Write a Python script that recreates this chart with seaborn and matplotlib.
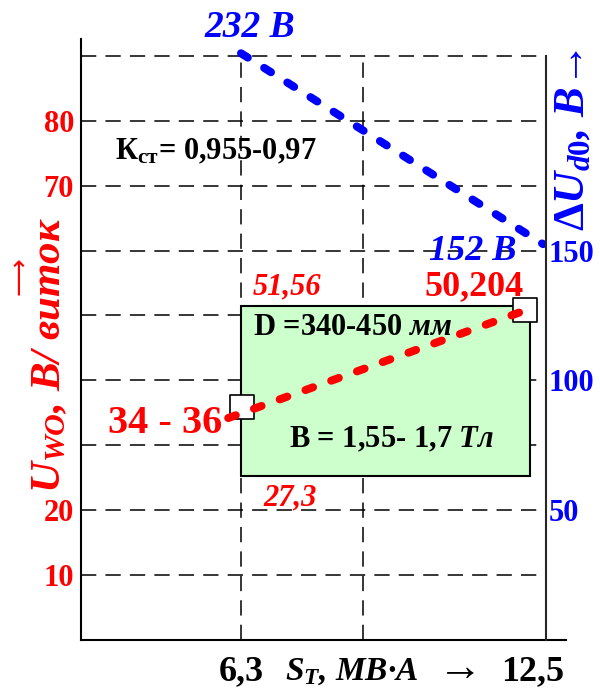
import numpy as np
import pandas as pd
import seaborn as sns
import matplotlib
matplotlib.use('Agg')
import matplotlib.pyplot as plt
from matplotlib.patches import Rectangle
from matplotlib.transforms import ScaledTranslation

# data
blue_x = [6.3, 12.44]          # S_T, MVA
blue_y = [226.0, 152.5]        # dU_d0, V (right axis)
red_x = [6.04, 12.01]
red_y = [34.2, 50.6]           # U_wo, V/turn (left axis)
box_x = [6.32, 12.07]
box_y = [35.9, 50.8]
zone_x = [6.3, 12.18]
zone_y = [25.2, 51.5]
grid_y = [10, 20, 30, 40, 50, 60, 70, 80, 90]
grid_x = [6.3, 8.78]
left_ticks = [10, 20, 70, 80]
right_ticks = [50, 100, 150]
x_ticks = [6.3, 12.5]
x_ticklabels = ['6,3', '12,5']

RED = '#ff0000'
BLUE = '#0000ff'
SERIF = ['Liberation Serif', 'DejaVu Serif']

sns.set_style('white')
plt.rcParams['font.family'] = SERIF
plt.rcParams['font.weight'] = 'bold'
plt.rcParams['mathtext.fontset'] = 'custom'
plt.rcParams['mathtext.rm'] = 'Liberation Serif:bold'
plt.rcParams['mathtext.it'] = 'Liberation Serif:italic:bold'
plt.rcParams['mathtext.bf'] = 'Liberation Serif:bold'

fig = plt.figure(figsize=(6, 6.89), dpi=100)
ax = fig.add_axes([81 / 600, 49 / 689, 485 / 600, 601 / 689])
ax.set_xlim(3.047, 12.907)
ax.set_ylim(0, 92.6)

# dashed grid, only inside the frame
dash = (0, (10, 6))
ax.hlines(grid_y, 3.047, 12.5, colors='black', lw=1.1, linestyles=dash, zorder=0.5)
ax.vlines(grid_x, 0, 90, colors='black', lw=1.1, linestyles=dash, zorder=0.5)

# green zone
ax.add_patch(Rectangle((zone_x[0], zone_y[0]), zone_x[1] - zone_x[0], zone_y[1] - zone_y[0],
                       facecolor='#ccffcc', edgecolor='black', lw=1.5, zorder=1))

sns.scatterplot(x=box_x, y=box_y, ax=ax, marker='s', s=300, color='white',
                edgecolor='black', linewidth=1.2, zorder=2)
sns.lineplot(x=red_x, y=red_y, ax=ax, color=RED, lw=5.8, linestyle=(0, (1.0, 2.4)),
             dash_capstyle='round', zorder=3)

for s in ['top', 'right']:
    ax.spines[s].set_visible(False)
for s in ['left', 'bottom']:
    ax.spines[s].set_linewidth(1.5)
    ax.spines[s].set_color('black')

ax.set_yticks(left_ticks)
ax.set_yticklabels([str(v) for v in left_ticks])
ax.tick_params(axis='y', length=0, pad=5, labelsize=22, labelcolor=RED)
ax.set_xticks(x_ticks)
ax.set_xticklabels(x_ticklabels)
ax.tick_params(axis='x', length=0, pad=11, labelsize=26, labelcolor='black')
lbl = ax.get_xticklabels()[1]
lbl.set_transform(lbl.get_transform() + ScaledTranslation(-13 / 100, 0, fig.dpi_scale_trans))

# right axis for dU_d0
ax2 = ax.twinx()
ax2.set_ylim(0, 92.6 * 2.5)
sns.lineplot(x=blue_x, y=blue_y, ax=ax2, color=BLUE, lw=5.8, linestyle=(0, (1.0, 2.4)),
             dash_capstyle='round')
for s in ['top', 'left', 'bottom']:
    ax2.spines[s].set_visible(False)
ax2.spines['right'].set_position(('data', 12.5))
ax2.spines['right'].set_bounds(0, 225)
ax2.spines['right'].set_linewidth(1.5)
ax2.set_yticks(right_ticks)
ax2.set_yticklabels([str(v) for v in right_ticks])
ax2.tick_params(axis='y', length=0, pad=2, labelsize=22, labelcolor=BLUE)
ax2.set_xlim(3.047, 12.907)

# annotations
ax.text(6.48, 92.95, '232 В', color=BLUE, fontsize=27, style='italic', ha='center',
        va='baseline', clip_on=False)
ax.text(3.74, 74.0, r'$\mathrm{К}_{\mathrm{ст}}$= 0,955-0,97', color='black', fontsize=22,
        ha='left', va='baseline')
ax.text(11.91, 58.6, '152 В', color=BLUE, fontsize=26, style='italic', ha='right',
        va='baseline')
ax.text(11.04, 53.2, '50,204', color=RED, fontsize=26, ha='center', va='baseline')
ax.text(7.24, 53.2, '51,56', color=RED, fontsize=22, style='italic', ha='center',
        va='baseline')
ax.text(6.54, 47.0, r'D =340-450 $\mathit{мм}$', color='black', fontsize=22,
        ha='left', va='baseline')
ax.text(7.28, 29.6, r'В = 1,55- 1,7 $\mathit{Тл}$', color='black', fontsize=22,
        ha='left', va='baseline')
ax.text(5.91, 31.9, '34 - 36', color=RED, fontsize=29, ha='right', va='baseline')
ax.text(7.30, 20.8, '27,3', color=RED, fontsize=22, style='italic', ha='center',
        va='baseline')

# axis titles
ax.text(2.42, 43.9, r'$U_{WO}$, В/ виток', color=RED, fontsize=31, style='italic',
        rotation=90, ha='center', va='center', clip_on=False)
ax.text(1.80, 56.0, '⟶', color=RED, fontsize=19, fontweight='normal', rotation=90,
        family='DejaVu Sans', ha='center', va='center', clip_on=False)
ax.text(13.05, 77.07, r'$\Delta U_{\mathit{d0}}$, В→', color=BLUE, fontsize=32,
        style='italic', rotation=90, ha='center', va='center', clip_on=False)
ax.text(8.556, -6.17, r'$S_{T}$, МВ·А', color='black', fontsize=24, style='italic',
        ha='center', va='baseline', clip_on=False)
ax.text(10.75, -6.17, '→', color='black', fontsize=32, fontweight='normal',
        ha='center', va='baseline', clip_on=False)

fig.savefig('out.png', dpi=100)
